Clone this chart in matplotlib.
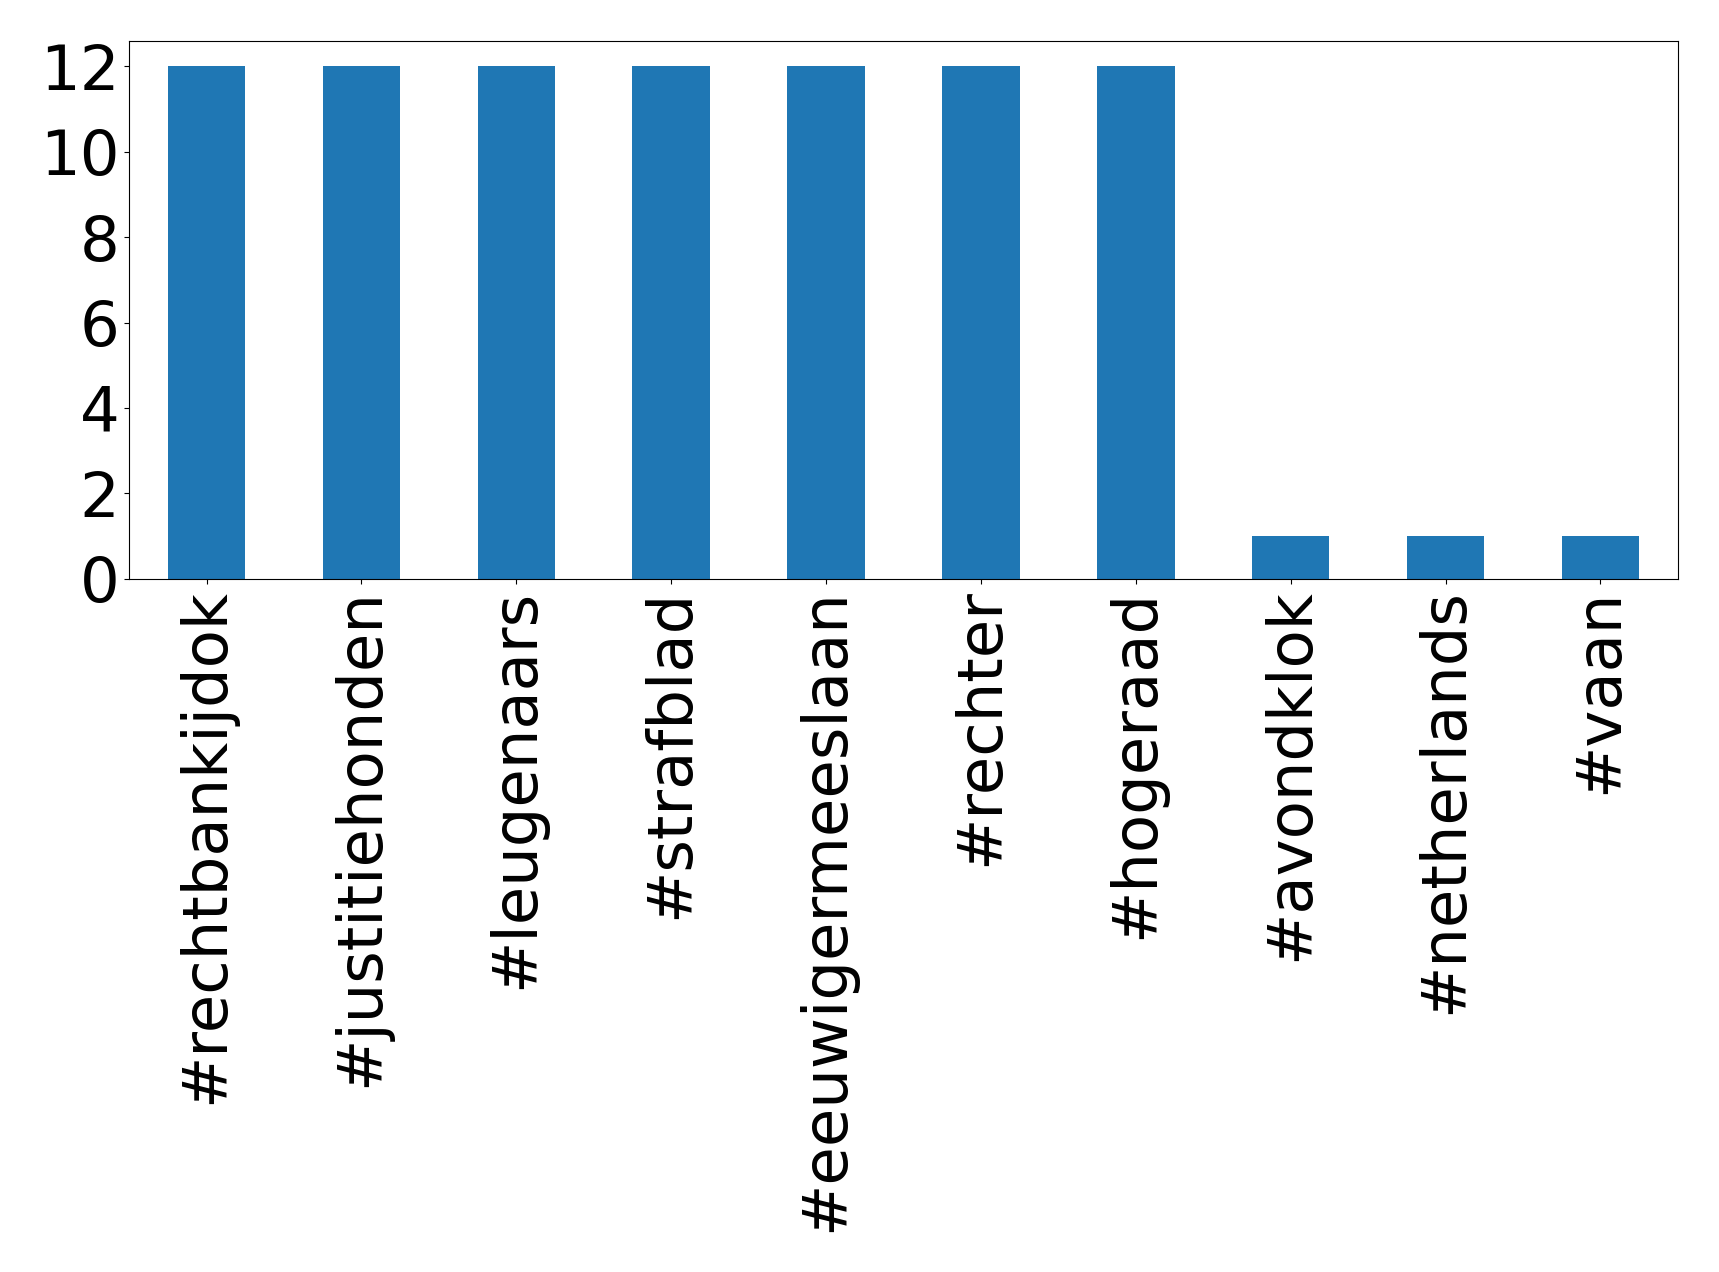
import matplotlib
matplotlib.use("Agg")
import matplotlib.pyplot as plt
import pandas as pd

hashtags = ["#rechtbankijdok", "#justitiehonden", "#leugenaars", "#strafblad",
            "#eeuwigermeeslaan", "#rechter", "#hogeraad", "#avondklok",
            "#netherlands", "#vaan"]
counts = [12, 12, 12, 12, 12, 12, 12, 1, 1, 1]

s = pd.Series(counts, index=hashtags)

fig = plt.figure(figsize=(17.19, 12.72), dpi=100)
ax = fig.add_axes([0.0751, 0.545, 0.901, 0.423])
s.plot(kind="bar", ax=ax, color="#1f77b4", fontsize=45)
ax.set_yticks([0, 2, 4, 6, 8, 10, 12])

fig.savefig("out.png", dpi=100)
